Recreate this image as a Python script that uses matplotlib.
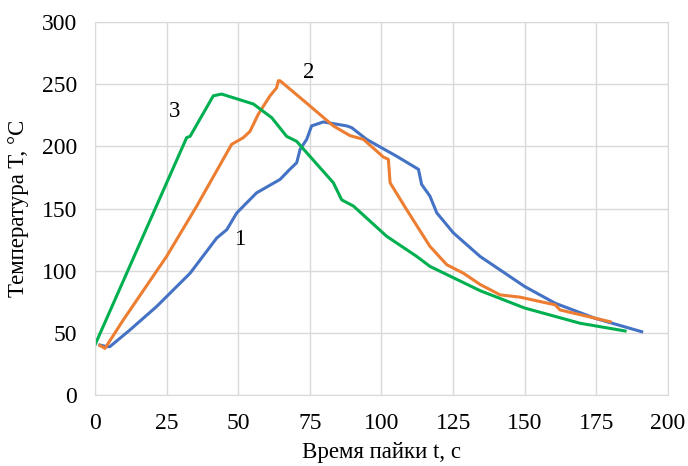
import matplotlib.pyplot as plt

# curve 1 (blue)
t1 = [1.7, 4.1, 5.2, 12, 21.5, 33.2, 42.5, 46, 49.5, 56.4, 64.6, 68, 70.4, 71.6,
      73.9, 75.6, 79.7, 87.9, 89.6, 94.8, 105.3, 111.1, 112.9, 114, 116.9, 119.3,
      125.1, 134.4, 150, 160.6, 174.5, 190.8]
T1 = [40.3, 39, 39, 52, 71.2, 98, 126.3, 133, 146.5, 162.6, 173.4, 181.5, 186.8,
      197.6, 205.6, 216.4, 219.6, 216.4, 215, 205.6, 192, 184, 181.5, 169.4, 160,
      146.5, 130.4, 111.5, 87.3, 73.9, 61.8, 51]

# curve 2 (orange)
t2 = [1.7, 3.5, 9.9, 25, 35.5, 47.7, 51.8, 54.1, 57, 61.1, 63.4, 64, 64.6, 75,
      83.2, 89, 93.7, 100.6, 102.4, 103, 108.8, 116.9, 122.8, 128.6, 134.4, 141.4,
      148.3, 160.6, 162.3, 179.8]
T2 = [40, 37.6, 60.5, 111.5, 151.9, 201.6, 207, 212, 225.8, 240.6, 247, 252.7,
      252.7, 232.5, 216.4, 208.6, 205.6, 191.5, 189.5, 170.7, 149, 119.6, 104.8,
      98, 89, 80.6, 78.8, 72.6, 68.5, 59]

# curve 3 (green)
t3 = [0, 32, 33.2, 41.3, 44.2, 55.3, 61.7, 66.9, 70.4, 75, 83.2, 86.1, 90.2,
      101.8, 112.3, 116.9, 134.4, 150, 169.3, 185]
T3 = [40.3, 207, 208, 240.6, 242, 234, 223, 208, 204, 192, 170.7, 157, 152,
      127.7, 111.5, 103.5, 84, 70, 57.8, 51.6]

labels = ["1", "2", "3"]
label_pos = [(50.6, 125), (74.7, 259.7), (27.9, 228)]

plt.rcParams['font.family'] = ['Liberation Serif', 'DejaVu Serif']

fig = plt.figure(figsize=(6.88, 4.66), dpi=100)
ax = fig.add_axes([0.138, 0.152, 0.833, 0.801])

ax.plot(t1, T1, color='#4472C4', lw=2.2)
ax.plot(t2, T2, color='#ED7D31', lw=2.2)
ax.plot(t3, T3, color='#00B050', lw=2.2)

for lab, (x, y) in zip(labels, label_pos):
    ax.text(x, y, lab, ha='center', va='center', fontsize=16.5)

ax.set_xlim(0, 200)
ax.set_ylim(0, 300)
ax.set_xticks(range(0, 201, 25))
ax.set_yticks(range(0, 301, 50))
ax.grid(True, color='#D9D9D9', lw=1)
ax.set_axisbelow(True)
for s in ax.spines.values():
    s.set_color('#D9D9D9')
ax.tick_params(length=0, pad=13, labelsize=17)

ax.set_xlabel("Время пайки t, с", fontsize=16.5)
ax.set_ylabel("Температура T, °C", fontsize=16.5)
ax.xaxis.set_label_coords(0.5, -0.125)
ax.yaxis.set_label_coords(-0.115, 0.5)

plt.savefig("out.png")
plt.close()
